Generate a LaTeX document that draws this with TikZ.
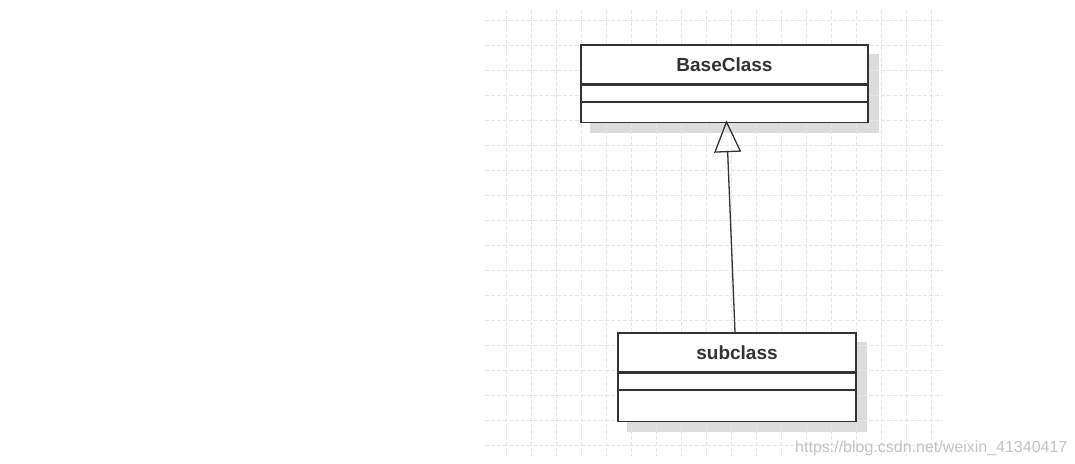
\documentclass[tikz,border=0pt]{standalone}
\usepackage{fontspec}
\setmainfont{Liberation Sans}
\usepackage{tikz}
\usetikzlibrary{arrows.meta,calc,positioning,backgrounds}
\definecolor{umlline}{HTML}{333333}
\definecolor{gridline}{HTML}{E6E6E6}
\definecolor{shadowgray}{HTML}{DCDCDC}
\definecolor{marktext}{HTML}{C4C4C4}

\begin{document}
\begin{tikzpicture}[x=1pt,y=-1pt,
  classname/.style={draw=umlline,line width=1.3pt,fill=white,minimum height=39,
    inner sep=0pt,text=umlline,font=\fontsize{19}{22}\selectfont\bfseries},
  classpart/.style={draw=umlline,line width=1.3pt,fill=white,inner sep=0pt},
  gridstyle/.style={gridline,line width=0.8pt,dash pattern=on 4pt off 2pt}]
  \useasboundingbox (0,0) rectangle (1075,463);

  % background grid
  \foreach \y in {20,45,...,445}
    \draw[gridstyle] (485,\y) -- (943,\y);
  \foreach \x in {506,531,...,931}
    \draw[gridstyle] (\x,10) -- (\x,456);

  % BaseClass
  \node[classname,minimum width=287] (base) at (724.5,64.5) {BaseClass};
  \node[classpart,minimum width=287,minimum height=16,below=0pt of base] (baseattr) {};
  \node[classpart,minimum width=287,minimum height=20,below=0pt of baseattr] (baseops) {};

  % subclass
  \node[classname,minimum width=238] (sub) at (737,352.5) {subclass};
  \node[classpart,minimum width=238,minimum height=16,below=0pt of sub] (subattr) {};
  \node[classpart,minimum width=238,minimum height=31,below=0pt of subattr] (subops) {};

  \begin{scope}[on background layer]
    \fill[white] (0,0) rectangle (1075,463);
    \fill[shadowgray] ($(base.north west)+(10,10)$) rectangle ($(baseops.south east)+(10,10)$);
    \fill[shadowgray] ($(sub.north west)+(10,10)$) rectangle ($(subops.south east)+(10,10)$);
  \end{scope}

  % generalization
  \draw[umlline,line width=1.3pt,shorten >=-3pt,
    -{Triangle[open,length=32pt,width=27pt,line width=1.3pt]}]
    ([xshift=-2]sub.north) -- ([xshift=2]baseops.south);

  \node[anchor=base west,inner sep=0pt,text=marktext,font=\fontsize{16}{18}\selectfont] (mark)
    at (795,452) {https://blog.csdn.net/weixin\_41340417};
\end{tikzpicture}
\end{document}
